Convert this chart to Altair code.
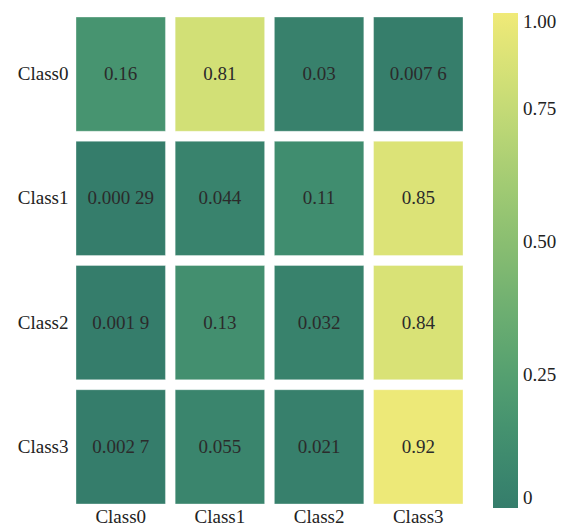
import altair as alt
import pandas as pd

rows = ["Class0", "Class1", "Class2", "Class3"]
cols = ["Class0", "Class1", "Class2", "Class3"]
values = [
    [0.16, 0.81, 0.03, 0.0076],
    [0.00029, 0.044, 0.11, 0.85],
    [0.0019, 0.13, 0.032, 0.84],
    [0.0027, 0.055, 0.021, 0.92],
]
labels = [
    ["0.16", "0.81", "0.03", "0.007 6"],
    ["0.000 29", "0.044", "0.11", "0.85"],
    ["0.001 9", "0.13", "0.032", "0.84"],
    ["0.002 7", "0.055", "0.021", "0.92"],
]
color_stops = [0, 0.25, 0.5, 0.75, 0.93]
color_range = ["#357d6b", "#55a070", "#8abe71", "#c4da76", "#f0ea78"]
legend_values = [0, 0.25, 0.5, 0.75, 0.93]

recs = []
for i, r in enumerate(rows):
    for j, c in enumerate(cols):
        recs.append({"row": r, "col": c, "v": values[i][j], "lab": labels[i][j]})
df = pd.DataFrame(recs)

FONT = "Liberation Serif"

base = alt.Chart(df).encode(
    x=alt.X("col:N", sort=cols,
            scale=alt.Scale(paddingInner=0.098, paddingOuter=0),
            axis=alt.Axis(title=None, orient="bottom", ticks=False, domain=False,
                          labelAngle=0, labelPadding=3, labelFontSize=19,
                          labelFont=FONT, labelColor="#222222")),
    y=alt.Y("row:N", sort=rows,
            scale=alt.Scale(paddingInner=0.08, paddingOuter=0),
            axis=alt.Axis(title=None, ticks=False, domain=False,
                          labelPadding=8, labelFontSize=19,
                          labelFont=FONT, labelColor="#222222")),
)

rects = base.mark_rect(stroke="#ffffff", strokeOpacity=0.35, strokeWidth=1).encode(
    color=alt.Color("v:Q", title=None,
                    scale=alt.Scale(domain=color_stops, range=color_range, clamp=True),
                    legend=alt.Legend(orient="none", legendX=417, legendY=-4,
                                      direction="vertical",
                                      gradientLength=495, gradientThickness=25,
                                      gradientStrokeWidth=0,
                                      values=legend_values,
                                      labelExpr="datum.value == 0 ? '0' : datum.value > 0.9 ? '1.00' : format(datum.value, '.2f')",
                                      labelFontSize=19, labelFont=FONT,
                                      labelColor="#222222", labelOffset=5))
)

texts = base.mark_text(fontSize=19, font=FONT, color="#2b2b2b").encode(
    text="lab:N"
)

chart = (rects + texts).properties(
    width=387, height=487,
    padding={"left": 9, "top": 5, "right": 0, "bottom": 0},
).configure_view(stroke=None)

chart.save("out.html", embed_options={"renderer": "svg", "actions": False})
